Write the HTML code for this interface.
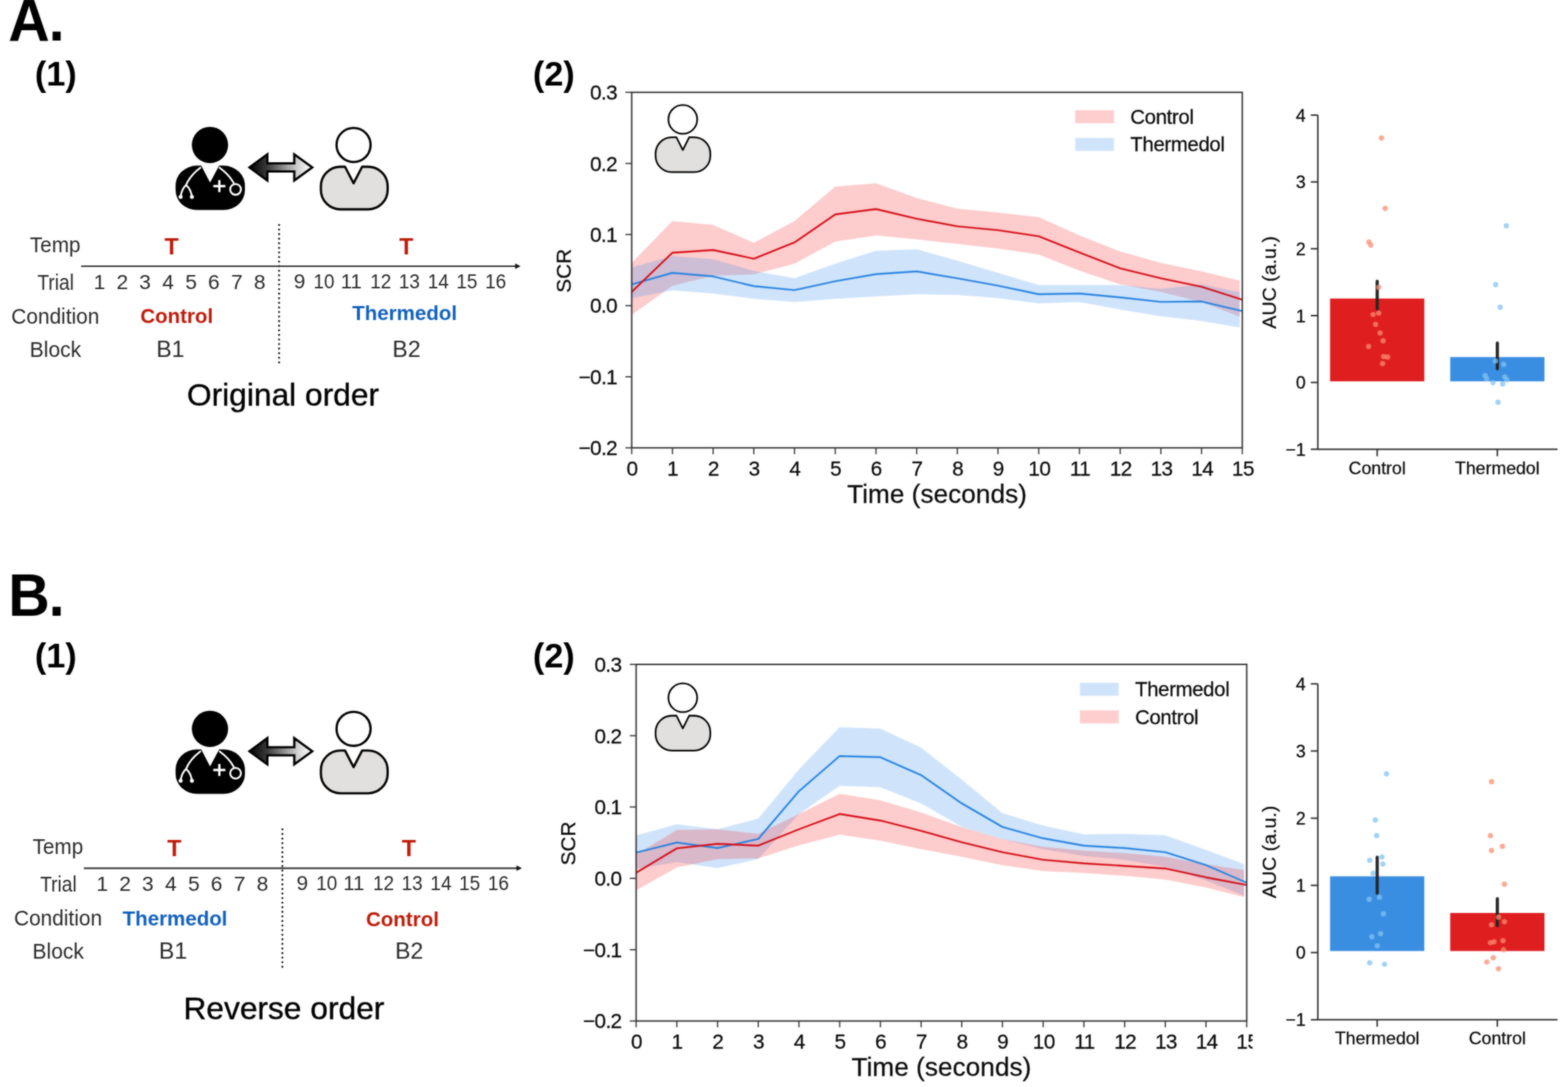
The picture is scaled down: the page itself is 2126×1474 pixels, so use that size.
<!DOCTYPE html>
<html lang="en"><head><meta charset="utf-8"><title>SCR by condition order</title>
<style>html,body{margin:0;padding:0;background:#fff}body{width:2126px;height:1474px;overflow:hidden}svg{display:block}text{font-family:'Liberation Sans', sans-serif}.ct text{stroke:#111;stroke-width:.3px}</style>
</head><body>
<svg width="2126" height="1474" viewBox="0 0 2126 1474" role="img" aria-label="Skin conductance responses for original and reverse condition order">
<defs>
<linearGradient id="ag" x1="0" y1="0" x2="1" y2="0"><stop offset="0" stop-color="#000"/><stop offset="0.28" stop-color="#3a3a3a"/><stop offset="0.52" stop-color="#858585"/><stop offset="0.76" stop-color="#cfcfcf"/><stop offset="0.92" stop-color="#f2f2f2"/><stop offset="1" stop-color="#fff"/></linearGradient>
<filter id="soft" x="0" y="0" width="2126" height="1474" filterUnits="userSpaceOnUse" color-interpolation-filters="sRGB"><feGaussianBlur stdDeviation="0.8" result="b"/><feComposite in="b" in2="SourceGraphic" operator="arithmetic" k1="0" k2="0.62" k3="0.38" k4="0"/></filter>
</defs>
<rect width="2126" height="1474" fill="#fff"/>
<g filter="url(#soft)">
<rect x="-10" y="-10" width="2146" height="1494" fill="#fff"/>
<text x="0" y="0" font-size="77.8" text-anchor="start" font-weight="bold" fill="#000" transform="translate(11.2,55) scale(1,1.045)" letter-spacing="-1.3">A.</text>
<text x="0" y="0" font-size="77.8" text-anchor="start" font-weight="bold" fill="#000" transform="translate(11.2,835.4) scale(1,1.045)" letter-spacing="-1.3">B.</text>
<text x="47.2" y="115.9" font-size="46.6" text-anchor="start" font-weight="bold" fill="#000">(1)</text>
<text x="47.2" y="904.5" font-size="46.6" text-anchor="start" font-weight="bold" fill="#000">(1)</text>
<text x="722.4" y="115.9" font-size="46.6" text-anchor="start" font-weight="bold" fill="#000">(2)</text>
<text x="722.4" y="904.5" font-size="46.6" text-anchor="start" font-weight="bold" fill="#000">(2)</text>
<g transform="translate(0,0)">
<circle cx="284.7" cy="196.6" r="24.6" fill="#000"/>
<rect x="238.1" y="224.6" width="94" height="60.2" rx="29" ry="27" fill="#000"/>
<path d="M272.6 224 L284.8 247.6 L297.4 224 Z" fill="#fff"/>
<g fill="none" stroke="#fff" stroke-width="2.5" stroke-linecap="round">
<path d="M271.6 227.4 Q257.5 238 252.3 251"/>
<path d="M244.9 266.6 Q246.5 256 252.3 251 Q258.6 256 260.2 266.6"/>
<path d="M297.8 227.4 Q311 237 317 248.5"/>
<circle cx="319.4" cy="256.8" r="7.3" stroke-width="2.6"/>
<path d="M289.2 252.4 H305.6 M297.4 244.2 V260.6" stroke-width="3.2" stroke-linecap="butt"/>
</g>
<circle cx="244.9" cy="267" r="2.7" fill="#fff"/><circle cx="260.2" cy="267" r="2.7" fill="#fff"/>
</g>
<path d="M338.2 227 L362.5 209.2 L362.5 221.5 L399 221.5 L399 209.2 L423.4 227 L399 244.8 L399 232.5 L362.5 232.5 L362.5 244.8 Z" fill="url(#ag)" stroke="#000" stroke-width="3.1" stroke-linejoin="miter"/>
<circle cx="479.4" cy="196.6" r="23.1" fill="#fff" stroke="#000" stroke-width="3.1"/>
<path d="M461.6 226.1 L467.8 226.1 L479.4 248.5 L491 226.1 L499.1 226.1 A26.5 26.5 0 0 1 525.6 252.6 L525.6 257.4 A26.5 26.5 0 0 1 499.1 283.9 L461.6 283.9 A26.5 26.5 0 0 1 435.1 257.4 L435.1 252.6 A26.5 26.5 0 0 1 461.6 226.1 Z" fill="#e2e0df" stroke="#000" stroke-width="3.1" stroke-linejoin="round"/>
<g transform="translate(0,0)">
<text x="74.8" y="342.2" font-size="28.6" text-anchor="middle" fill="#2a2a2a" textLength="68.6" lengthAdjust="spacingAndGlyphs">Temp</text>
<text x="75.5" y="393.1" font-size="28.6" text-anchor="middle" fill="#2a2a2a" textLength="49.6" lengthAdjust="spacingAndGlyphs">Trial</text>
<text x="75" y="438.6" font-size="28.6" text-anchor="middle" fill="#2a2a2a" textLength="119.4" lengthAdjust="spacingAndGlyphs">Condition</text>
<text x="75.2" y="483.5" font-size="28.6" text-anchor="middle" fill="#2a2a2a" textLength="69.8" lengthAdjust="spacingAndGlyphs">Block</text>
<text x="232.6" y="345" font-size="31.5" text-anchor="middle" font-weight="bold" fill="#bf1a08">T</text>
<text x="550.8" y="345" font-size="31.5" text-anchor="middle" font-weight="bold" fill="#bf1a08">T</text>
<text x="135" y="392.2" font-size="28.4" text-anchor="middle" fill="#2a2a2a">1</text>
<text x="165.9" y="392.2" font-size="28.4" text-anchor="middle" fill="#2a2a2a">2</text>
<text x="196.7" y="392.2" font-size="28.4" text-anchor="middle" fill="#2a2a2a">3</text>
<text x="227.9" y="392.2" font-size="28.4" text-anchor="middle" fill="#2a2a2a">4</text>
<text x="259.1" y="392.2" font-size="28.4" text-anchor="middle" fill="#2a2a2a">5</text>
<text x="290" y="392.2" font-size="28.4" text-anchor="middle" fill="#2a2a2a">6</text>
<text x="321.1" y="392.2" font-size="28.4" text-anchor="middle" fill="#2a2a2a">7</text>
<text x="352.1" y="392.2" font-size="28.4" text-anchor="middle" fill="#2a2a2a">8</text>
<text x="406.1" y="390.9" font-size="28.4" text-anchor="middle" fill="#2a2a2a">9</text>
<text x="439.3" y="390.9" font-size="28.4" text-anchor="middle" fill="#2a2a2a" textLength="28.6" lengthAdjust="spacingAndGlyphs">10</text>
<text x="476.2" y="390.9" font-size="28.4" text-anchor="middle" fill="#2a2a2a" textLength="28.6" lengthAdjust="spacingAndGlyphs">11</text>
<text x="516.3" y="390.9" font-size="28.4" text-anchor="middle" fill="#2a2a2a" textLength="28.6" lengthAdjust="spacingAndGlyphs">12</text>
<text x="555.1" y="390.9" font-size="28.4" text-anchor="middle" fill="#2a2a2a" textLength="28.6" lengthAdjust="spacingAndGlyphs">13</text>
<text x="594.2" y="390.9" font-size="28.4" text-anchor="middle" fill="#2a2a2a" textLength="28.6" lengthAdjust="spacingAndGlyphs">14</text>
<text x="633.1" y="390.9" font-size="28.4" text-anchor="middle" fill="#2a2a2a" textLength="28.6" lengthAdjust="spacingAndGlyphs">15</text>
<text x="672.1" y="390.9" font-size="28.4" text-anchor="middle" fill="#2a2a2a" textLength="28.6" lengthAdjust="spacingAndGlyphs">16</text>
</g>
<g transform="translate(0,0)">
<text x="239.6" y="437.5" font-size="27.8" text-anchor="middle" font-weight="bold" fill="#bf1a08">Control</text>
<text x="548.6" y="434.4" font-size="27.8" text-anchor="middle" font-weight="bold" fill="#1160bd">Thermedol</text>
<text x="231" y="483.9" font-size="31.2" text-anchor="middle" fill="#2a2a2a">B1</text>
<text x="551.2" y="483.9" font-size="31.2" text-anchor="middle" fill="#2a2a2a">B2</text>
<line x1="378.4" y1="305.1" x2="378.4" y2="493.6" stroke="#141414" stroke-width="2.8" stroke-linecap="round" stroke-dasharray="0.01 6.2"/>
<line x1="110" y1="361" x2="699.9" y2="361" stroke="#303030" stroke-width="2.2"/>
<path d="M698.5 357.2 L705.9 361 L698.5 364.8 Z" fill="#111"/>
</g>
<text x="383.7" y="550.3" font-size="43" text-anchor="middle" fill="#000" stroke="#000" stroke-width="0.45">Original order</text>
<g transform="translate(0,791.7)">
<circle cx="284.7" cy="196.6" r="24.6" fill="#000"/>
<rect x="238.1" y="224.6" width="94" height="60.2" rx="29" ry="27" fill="#000"/>
<path d="M272.6 224 L284.8 247.6 L297.4 224 Z" fill="#fff"/>
<g fill="none" stroke="#fff" stroke-width="2.5" stroke-linecap="round">
<path d="M271.6 227.4 Q257.5 238 252.3 251"/>
<path d="M244.9 266.6 Q246.5 256 252.3 251 Q258.6 256 260.2 266.6"/>
<path d="M297.8 227.4 Q311 237 317 248.5"/>
<circle cx="319.4" cy="256.8" r="7.3" stroke-width="2.6"/>
<path d="M289.2 252.4 H305.6 M297.4 244.2 V260.6" stroke-width="3.2" stroke-linecap="butt"/>
</g>
<circle cx="244.9" cy="267" r="2.7" fill="#fff"/><circle cx="260.2" cy="267" r="2.7" fill="#fff"/>
</g>
<path d="M338.2 1018.7 L362.5 1000.9 L362.5 1013.2 L399 1013.2 L399 1000.9 L423.4 1018.7 L399 1036.5 L399 1024.2 L362.5 1024.2 L362.5 1036.5 Z" fill="url(#ag)" stroke="#000" stroke-width="3.1" stroke-linejoin="miter"/>
<circle cx="479.4" cy="988.3" r="23.1" fill="#fff" stroke="#000" stroke-width="3.1"/>
<path d="M461.6 1017.8 L467.8 1017.8 L479.4 1040.2 L491 1017.8 L499.1 1017.8 A26.5 26.5 0 0 1 525.6 1044.2 L525.6 1049.2 A26.5 26.5 0 0 1 499.1 1075.7 L461.6 1075.7 A26.5 26.5 0 0 1 435.1 1049.2 L435.1 1044.2 A26.5 26.5 0 0 1 461.6 1017.8 Z" fill="#e2e0df" stroke="#000" stroke-width="3.1" stroke-linejoin="round"/>
<g transform="translate(3.7,816.3)">
<text x="74.8" y="342.2" font-size="28.6" text-anchor="middle" fill="#2a2a2a" textLength="68.6" lengthAdjust="spacingAndGlyphs">Temp</text>
<text x="75.5" y="393.1" font-size="28.6" text-anchor="middle" fill="#2a2a2a" textLength="49.6" lengthAdjust="spacingAndGlyphs">Trial</text>
<text x="75" y="438.6" font-size="28.6" text-anchor="middle" fill="#2a2a2a" textLength="119.4" lengthAdjust="spacingAndGlyphs">Condition</text>
<text x="75.2" y="483.5" font-size="28.6" text-anchor="middle" fill="#2a2a2a" textLength="69.8" lengthAdjust="spacingAndGlyphs">Block</text>
<text x="232.6" y="345" font-size="31.5" text-anchor="middle" font-weight="bold" fill="#bf1a08">T</text>
<text x="550.8" y="345" font-size="31.5" text-anchor="middle" font-weight="bold" fill="#bf1a08">T</text>
<text x="135" y="392.2" font-size="28.4" text-anchor="middle" fill="#2a2a2a">1</text>
<text x="165.9" y="392.2" font-size="28.4" text-anchor="middle" fill="#2a2a2a">2</text>
<text x="196.7" y="392.2" font-size="28.4" text-anchor="middle" fill="#2a2a2a">3</text>
<text x="227.9" y="392.2" font-size="28.4" text-anchor="middle" fill="#2a2a2a">4</text>
<text x="259.1" y="392.2" font-size="28.4" text-anchor="middle" fill="#2a2a2a">5</text>
<text x="290" y="392.2" font-size="28.4" text-anchor="middle" fill="#2a2a2a">6</text>
<text x="321.1" y="392.2" font-size="28.4" text-anchor="middle" fill="#2a2a2a">7</text>
<text x="352.1" y="392.2" font-size="28.4" text-anchor="middle" fill="#2a2a2a">8</text>
<text x="406.1" y="390.9" font-size="28.4" text-anchor="middle" fill="#2a2a2a">9</text>
<text x="439.3" y="390.9" font-size="28.4" text-anchor="middle" fill="#2a2a2a" textLength="28.6" lengthAdjust="spacingAndGlyphs">10</text>
<text x="476.2" y="390.9" font-size="28.4" text-anchor="middle" fill="#2a2a2a" textLength="28.6" lengthAdjust="spacingAndGlyphs">11</text>
<text x="516.3" y="390.9" font-size="28.4" text-anchor="middle" fill="#2a2a2a" textLength="28.6" lengthAdjust="spacingAndGlyphs">12</text>
<text x="555.1" y="390.9" font-size="28.4" text-anchor="middle" fill="#2a2a2a" textLength="28.6" lengthAdjust="spacingAndGlyphs">13</text>
<text x="594.2" y="390.9" font-size="28.4" text-anchor="middle" fill="#2a2a2a" textLength="28.6" lengthAdjust="spacingAndGlyphs">14</text>
<text x="633.1" y="390.9" font-size="28.4" text-anchor="middle" fill="#2a2a2a" textLength="28.6" lengthAdjust="spacingAndGlyphs">15</text>
<text x="672.1" y="390.9" font-size="28.4" text-anchor="middle" fill="#2a2a2a" textLength="28.6" lengthAdjust="spacingAndGlyphs">16</text>
</g>
<g transform="translate(3.7,816.3)">
<text x="233.6" y="438.9" font-size="27.8" text-anchor="middle" font-weight="bold" fill="#1160bd">Thermedol</text>
<text x="542" y="439.4" font-size="27.8" text-anchor="middle" font-weight="bold" fill="#bf1a08">Control</text>
<text x="231" y="483.9" font-size="31.2" text-anchor="middle" fill="#2a2a2a">B1</text>
<text x="551.2" y="483.9" font-size="31.2" text-anchor="middle" fill="#2a2a2a">B2</text>
<line x1="379.2" y1="308.4" x2="379.2" y2="496.9" stroke="#141414" stroke-width="2.8" stroke-linecap="round" stroke-dasharray="0.01 6.2"/>
<line x1="110" y1="361" x2="698" y2="361" stroke="#303030" stroke-width="2.2"/>
<path d="M696.6 357.2 L704 361 L696.6 364.8 Z" fill="#111"/>
</g>
<text x="384.9" y="1381.5" font-size="43" text-anchor="middle" fill="#000" stroke="#000" stroke-width="0.45">Reverse order</text>
<g class="ct">
<polygon points="856.5,356.6 911.7,299.7 966.9,304.9 1022.1,329.3 1077.3,299.7 1132.5,253.1 1187.7,248.6 1242.9,268.6 1298,283.1 1353.2,288.3 1408.4,294.5 1463.6,319.3 1518.8,341.1 1574,356.6 1629.2,368 1680.8,380.5 1680.8,429.6 1629.2,409.6 1574,396 1518.8,385.6 1463.6,366.9 1408.4,345.2 1353.2,336.9 1298,330.7 1242.9,324.5 1187.7,319.3 1132.5,327.6 1077.3,357.6 1022.1,372.1 966.9,374 911.7,387.6 856.5,427" fill="#f83434" fill-opacity="0.25"/>
<polygon points="856.5,362.8 911.7,347.3 966.9,351.4 1022.1,367.4 1077.3,377.3 1132.5,357.6 1187.7,340 1242.9,338 1298,353.5 1353.2,370 1408.4,386.6 1463.6,386.6 1518.8,386.6 1574,391.8 1629.2,385.6 1680.8,396.3 1680.8,444 1629.2,435.2 1574,429 1518.8,419.7 1463.6,409.4 1408.4,411.4 1353.2,404.2 1298,400 1242.9,399 1187.7,402.1 1132.5,405.2 1077.3,409.4 1022.1,405.2 966.9,398 911.7,393.8 856.5,404.2" fill="#3f93ef" fill-opacity="0.25"/>
<polyline points="856.5,385.6 911.7,370 966.9,374.8 1022.1,388 1077.3,393.4 1132.5,381.4 1187.7,371.7 1242.9,368 1298,377.4 1353.2,387.4 1408.4,399 1463.6,398 1518.8,403.2 1574,409.4 1629.2,408.8 1684.4,421.8" fill="none" stroke="#2a84e0" stroke-width="2.4" stroke-linejoin="round"/>
<polyline points="856.5,395.9 911.7,342.7 966.9,339 1022.1,350.8 1077.3,328.7 1132.5,290.8 1187.7,283.5 1242.9,296.6 1298,306.9 1353.2,312.1 1408.4,320.4 1463.6,342.4 1518.8,363.8 1574,377.3 1629.2,388.8 1684.4,406.3" fill="none" stroke="#d50f1a" stroke-width="2.4" stroke-linejoin="round"/>
<rect x="856.5" y="125.2" width="827.9" height="482.1" fill="none" stroke="#2c2c2c" stroke-width="1.9"/>
<line x1="847.9" y1="125.2" x2="856.5" y2="125.2" stroke="#383838" stroke-width="1.7"/>
<text x="836.7" y="135.1" font-size="28.2" text-anchor="end" fill="#080808" letter-spacing="-0.85">0.3</text>
<line x1="847.9" y1="221.6" x2="856.5" y2="221.6" stroke="#383838" stroke-width="1.7"/>
<text x="836.7" y="231.5" font-size="28.2" text-anchor="end" fill="#080808" letter-spacing="-0.85">0.2</text>
<line x1="847.9" y1="318" x2="856.5" y2="318" stroke="#383838" stroke-width="1.7"/>
<text x="836.7" y="327.9" font-size="28.2" text-anchor="end" fill="#080808" letter-spacing="-0.85">0.1</text>
<line x1="847.9" y1="414.5" x2="856.5" y2="414.5" stroke="#383838" stroke-width="1.7"/>
<text x="836.7" y="424.4" font-size="28.2" text-anchor="end" fill="#080808" letter-spacing="-0.85">0.0</text>
<line x1="847.9" y1="510.9" x2="856.5" y2="510.9" stroke="#383838" stroke-width="1.7"/>
<text x="836.7" y="520.8" font-size="28.2" text-anchor="end" fill="#080808" letter-spacing="-0.85">−0.1</text>
<line x1="847.9" y1="607.3" x2="856.5" y2="607.3" stroke="#383838" stroke-width="1.7"/>
<text x="836.7" y="617.2" font-size="28.2" text-anchor="end" fill="#080808" letter-spacing="-0.85">−0.2</text>
<line x1="856.5" y1="607.3" x2="856.5" y2="615.9" stroke="#383838" stroke-width="1.7"/>
<text x="856.8" y="644.9" font-size="28.2" text-anchor="middle" fill="#080808" letter-spacing="-0.85">0</text>
<line x1="911.7" y1="607.3" x2="911.7" y2="615.9" stroke="#383838" stroke-width="1.7"/>
<text x="912" y="644.9" font-size="28.2" text-anchor="middle" fill="#080808" letter-spacing="-0.85">1</text>
<line x1="966.9" y1="607.3" x2="966.9" y2="615.9" stroke="#383838" stroke-width="1.7"/>
<text x="967.2" y="644.9" font-size="28.2" text-anchor="middle" fill="#080808" letter-spacing="-0.85">2</text>
<line x1="1022.1" y1="607.3" x2="1022.1" y2="615.9" stroke="#383838" stroke-width="1.7"/>
<text x="1022.4" y="644.9" font-size="28.2" text-anchor="middle" fill="#080808" letter-spacing="-0.85">3</text>
<line x1="1077.3" y1="607.3" x2="1077.3" y2="615.9" stroke="#383838" stroke-width="1.7"/>
<text x="1077.6" y="644.9" font-size="28.2" text-anchor="middle" fill="#080808" letter-spacing="-0.85">4</text>
<line x1="1132.5" y1="607.3" x2="1132.5" y2="615.9" stroke="#383838" stroke-width="1.7"/>
<text x="1132.8" y="644.9" font-size="28.2" text-anchor="middle" fill="#080808" letter-spacing="-0.85">5</text>
<line x1="1187.7" y1="607.3" x2="1187.7" y2="615.9" stroke="#383838" stroke-width="1.7"/>
<text x="1188" y="644.9" font-size="28.2" text-anchor="middle" fill="#080808" letter-spacing="-0.85">6</text>
<line x1="1242.9" y1="607.3" x2="1242.9" y2="615.9" stroke="#383838" stroke-width="1.7"/>
<text x="1243.2" y="644.9" font-size="28.2" text-anchor="middle" fill="#080808" letter-spacing="-0.85">7</text>
<line x1="1298" y1="607.3" x2="1298" y2="615.9" stroke="#383838" stroke-width="1.7"/>
<text x="1298.3" y="644.9" font-size="28.2" text-anchor="middle" fill="#080808" letter-spacing="-0.85">8</text>
<line x1="1353.2" y1="607.3" x2="1353.2" y2="615.9" stroke="#383838" stroke-width="1.7"/>
<text x="1353.5" y="644.9" font-size="28.2" text-anchor="middle" fill="#080808" letter-spacing="-0.85">9</text>
<line x1="1408.4" y1="607.3" x2="1408.4" y2="615.9" stroke="#383838" stroke-width="1.7"/>
<text x="1409.2" y="644.9" font-size="28.2" text-anchor="middle" fill="#080808" letter-spacing="-0.85">10</text>
<line x1="1463.6" y1="607.3" x2="1463.6" y2="615.9" stroke="#383838" stroke-width="1.7"/>
<text x="1464.4" y="644.9" font-size="28.2" text-anchor="middle" fill="#080808" letter-spacing="-0.85">11</text>
<line x1="1518.8" y1="607.3" x2="1518.8" y2="615.9" stroke="#383838" stroke-width="1.7"/>
<text x="1519.6" y="644.9" font-size="28.2" text-anchor="middle" fill="#080808" letter-spacing="-0.85">12</text>
<line x1="1574" y1="607.3" x2="1574" y2="615.9" stroke="#383838" stroke-width="1.7"/>
<text x="1574.8" y="644.9" font-size="28.2" text-anchor="middle" fill="#080808" letter-spacing="-0.85">13</text>
<line x1="1629.2" y1="607.3" x2="1629.2" y2="615.9" stroke="#383838" stroke-width="1.7"/>
<text x="1630" y="644.9" font-size="28.2" text-anchor="middle" fill="#080808" letter-spacing="-0.85">14</text>
<line x1="1684.4" y1="607.3" x2="1684.4" y2="615.9" stroke="#383838" stroke-width="1.7"/>
<text x="1685.2" y="644.9" font-size="28.2" text-anchor="middle" fill="#080808" letter-spacing="-0.85">15</text>
<text x="1270.4" y="681.9" font-size="35.6" text-anchor="middle" fill="#080808">Time (seconds)</text>
<text x="0" y="0" font-size="28.2" text-anchor="middle" fill="#080808" transform="translate(774.3,367.2) rotate(-90)">SCR</text>
<rect x="1457.8" y="149.5" width="52.6" height="17.6" fill="#fecdcd"/>
<text x="1532.6" y="167.8" font-size="27.6" text-anchor="start" fill="#080808" letter-spacing="-0.45">Control</text>
<rect x="1457.8" y="187" width="52.6" height="17.6" fill="#cfe4fb"/>
<text x="1532.6" y="205.3" font-size="27.6" text-anchor="start" fill="#080808" letter-spacing="-0.45">Thermedol</text>
<circle cx="925.8" cy="161.9" r="19.5" fill="#fff" stroke="#000" stroke-width="2.3"/>
<path d="M910.9 186.2 L917.2 186.2 L925.8 203.4 L934.4 186.2 L941.1 186.2 A22 22 0 0 1 963.1 208.2 L963.1 211.4 A22 22 0 0 1 941.1 233.4 L910.9 233.4 A22 22 0 0 1 888.9 211.4 L888.9 208.2 A22 22 0 0 1 910.9 186.2 Z" fill="#e2e0df" stroke="#000" stroke-width="2.3" stroke-linejoin="round"/>
<rect x="1803.4" y="404.8" width="127.8" height="112.3" fill="#df1e20"/>
<rect x="1966.3" y="484.2" width="127.8" height="32.9" fill="#3a8ee2"/>
<line x1="1867.3" y1="381.3" x2="1867.3" y2="419.2" stroke="#262626" stroke-width="4.3" stroke-linecap="round"/>
<line x1="2030.2" y1="465.2" x2="2030.2" y2="500.1" stroke="#262626" stroke-width="4.3" stroke-linecap="round"/>
<g fill="#fa8c6e" fill-opacity="0.74">
<circle cx="1873.1" cy="187.2" r="3.6"/>
<circle cx="1878" cy="282.6" r="3.6"/>
<circle cx="1856" cy="328.1" r="3.6"/>
<circle cx="1858.6" cy="332.3" r="3.6"/>
<circle cx="1869.3" cy="389.7" r="3.6"/>
<circle cx="1861.7" cy="426.5" r="3.6"/>
<circle cx="1869.3" cy="424.6" r="3.6"/>
<circle cx="1865.1" cy="439.8" r="3.6"/>
<circle cx="1871.2" cy="451.6" r="3.6"/>
<circle cx="1875.3" cy="462.2" r="3.6"/>
<circle cx="1855.6" cy="469.8" r="3.6"/>
<circle cx="1876.1" cy="483.5" r="3.6"/>
<circle cx="1881.4" cy="484.2" r="3.6"/>
<circle cx="1874.6" cy="493" r="3.6"/>
</g>
<g fill="#80c3f2" fill-opacity="0.74">
<circle cx="2042.4" cy="306.1" r="3.6"/>
<circle cx="2028" cy="385.9" r="3.6"/>
<circle cx="2034.1" cy="416.6" r="3.6"/>
<circle cx="2027.6" cy="489.5" r="3.6"/>
<circle cx="2038.7" cy="494.1" r="3.6"/>
<circle cx="2013.6" cy="509.3" r="3.6"/>
<circle cx="2015.9" cy="513.8" r="3.6"/>
<circle cx="2024.2" cy="518.8" r="3.6"/>
<circle cx="2037.5" cy="520.7" r="3.6"/>
<circle cx="2040.2" cy="511.2" r="3.6"/>
<circle cx="2043.2" cy="515" r="3.6"/>
<circle cx="2031.1" cy="545.4" r="3.6"/>
</g>
<path d="M1786.8 156.1 V609.2 H2111.8" fill="none" stroke="#2c2c2c" stroke-width="2"/>
<line x1="1777.3" y1="156.1" x2="1786.8" y2="156.1" stroke="#2c2c2c" stroke-width="2"/>
<text x="1770.3" y="164.7" font-size="24" text-anchor="end" fill="#080808">4</text>
<line x1="1777.3" y1="246.7" x2="1786.8" y2="246.7" stroke="#2c2c2c" stroke-width="2"/>
<text x="1770.3" y="255.3" font-size="24" text-anchor="end" fill="#080808">3</text>
<line x1="1777.3" y1="337.3" x2="1786.8" y2="337.3" stroke="#2c2c2c" stroke-width="2"/>
<text x="1770.3" y="345.9" font-size="24" text-anchor="end" fill="#080808">2</text>
<line x1="1777.3" y1="428" x2="1786.8" y2="428" stroke="#2c2c2c" stroke-width="2"/>
<text x="1770.3" y="436.6" font-size="24" text-anchor="end" fill="#080808">1</text>
<line x1="1777.3" y1="518.6" x2="1786.8" y2="518.6" stroke="#2c2c2c" stroke-width="2"/>
<text x="1770.3" y="527.2" font-size="24" text-anchor="end" fill="#080808">0</text>
<line x1="1777.3" y1="609.2" x2="1786.8" y2="609.2" stroke="#2c2c2c" stroke-width="2"/>
<text x="1770.3" y="617.8" font-size="24" text-anchor="end" fill="#080808">−1</text>
<line x1="1867.3" y1="609.2" x2="1867.3" y2="618.7" stroke="#2c2c2c" stroke-width="2"/>
<text x="1867.3" y="643.4" font-size="24" text-anchor="middle" fill="#080808">Control</text>
<line x1="2030.2" y1="609.2" x2="2030.2" y2="618.7" stroke="#2c2c2c" stroke-width="2"/>
<text x="2030.2" y="643.4" font-size="24" text-anchor="middle" fill="#080808">Thermedol</text>
<text x="0" y="0" font-size="26.6" text-anchor="middle" fill="#080808" transform="translate(1729.8,382.9) rotate(-90)">AUC (a.u.)</text>
<polygon points="862.5,1132.8 917.7,1117.7 972.9,1124.5 1028.1,1110 1083.3,1043.2 1138.5,985.9 1193.7,987.9 1248.9,1013.8 1304,1057.3 1359.2,1102.8 1414.4,1119.4 1469.6,1131.4 1524.8,1130.7 1580,1132.8 1635.2,1152.5 1686.8,1171.8 1686.8,1214.5 1635.2,1193.9 1580,1175.2 1524.8,1165.9 1469.6,1160.8 1414.4,1151.4 1359.2,1138 1304,1121.2 1248.9,1089.4 1193.7,1067.6 1138.5,1065.5 1083.3,1103.8 1028.1,1164.9 972.9,1177.3 917.7,1169 862.5,1178.3" fill="#3f93ef" fill-opacity="0.25"/>
<polygon points="862.5,1158.7 917.7,1125.6 972.9,1124.5 1028.1,1130.7 1083.3,1103.8 1138.5,1076.5 1193.7,1085.2 1248.9,1101.8 1304,1121.4 1359.2,1138 1414.4,1148.3 1469.6,1153.4 1524.8,1156.8 1580,1161.8 1635.2,1172 1686.8,1179.7 1686.8,1216.5 1635.2,1203.6 1580,1192.8 1524.8,1187.5 1469.6,1183.8 1414.4,1181.2 1359.2,1173.2 1304,1161.8 1248.9,1151.4 1193.7,1140 1138.5,1131.8 1083.3,1146.3 1028.1,1163.9 972.9,1164.9 917.7,1176.3 862.5,1207.3" fill="#f83434" fill-opacity="0.25"/>
<polyline points="862.5,1156.2 917.7,1142.5 972.9,1150 1028.1,1137.6 1083.3,1072.8 1138.5,1025.2 1193.7,1026.8 1248.9,1051.1 1304,1089.4 1359.2,1121.4 1414.4,1136.8 1469.6,1146.7 1524.8,1150 1580,1155.6 1635.2,1173.2 1690.4,1197" fill="none" stroke="#2a84e0" stroke-width="2.4" stroke-linejoin="round"/>
<polyline points="862.5,1183.5 917.7,1150.4 972.9,1144.2 1028.1,1146.7 1083.3,1124.5 1138.5,1103.8 1193.7,1112.7 1248.9,1126.6 1304,1142.1 1359.2,1155.6 1414.4,1165.9 1469.6,1170.7 1524.8,1174.2 1580,1177.7 1635.2,1189.7 1690.4,1200.1" fill="none" stroke="#d50f1a" stroke-width="2.4" stroke-linejoin="round"/>
<rect x="862.5" y="900.9" width="827.9" height="483.6" fill="none" stroke="#2c2c2c" stroke-width="1.9"/>
<line x1="853.9" y1="900.9" x2="862.5" y2="900.9" stroke="#383838" stroke-width="1.7"/>
<text x="842.7" y="910.8" font-size="28.2" text-anchor="end" fill="#080808" letter-spacing="-0.85">0.3</text>
<line x1="853.9" y1="997.6" x2="862.5" y2="997.6" stroke="#383838" stroke-width="1.7"/>
<text x="842.7" y="1007.5" font-size="28.2" text-anchor="end" fill="#080808" letter-spacing="-0.85">0.2</text>
<line x1="853.9" y1="1094.3" x2="862.5" y2="1094.3" stroke="#383838" stroke-width="1.7"/>
<text x="842.7" y="1104.2" font-size="28.2" text-anchor="end" fill="#080808" letter-spacing="-0.85">0.1</text>
<line x1="853.9" y1="1191.1" x2="862.5" y2="1191.1" stroke="#383838" stroke-width="1.7"/>
<text x="842.7" y="1201" font-size="28.2" text-anchor="end" fill="#080808" letter-spacing="-0.85">0.0</text>
<line x1="853.9" y1="1287.8" x2="862.5" y2="1287.8" stroke="#383838" stroke-width="1.7"/>
<text x="842.7" y="1297.7" font-size="28.2" text-anchor="end" fill="#080808" letter-spacing="-0.85">−0.1</text>
<line x1="853.9" y1="1384.5" x2="862.5" y2="1384.5" stroke="#383838" stroke-width="1.7"/>
<text x="842.7" y="1394.4" font-size="28.2" text-anchor="end" fill="#080808" letter-spacing="-0.85">−0.2</text>
<line x1="862.5" y1="1384.5" x2="862.5" y2="1393.1" stroke="#383838" stroke-width="1.7"/>
<text x="862.8" y="1422.1" font-size="28.2" text-anchor="middle" fill="#080808" letter-spacing="-0.85">0</text>
<line x1="917.7" y1="1384.5" x2="917.7" y2="1393.1" stroke="#383838" stroke-width="1.7"/>
<text x="918" y="1422.1" font-size="28.2" text-anchor="middle" fill="#080808" letter-spacing="-0.85">1</text>
<line x1="972.9" y1="1384.5" x2="972.9" y2="1393.1" stroke="#383838" stroke-width="1.7"/>
<text x="973.2" y="1422.1" font-size="28.2" text-anchor="middle" fill="#080808" letter-spacing="-0.85">2</text>
<line x1="1028.1" y1="1384.5" x2="1028.1" y2="1393.1" stroke="#383838" stroke-width="1.7"/>
<text x="1028.4" y="1422.1" font-size="28.2" text-anchor="middle" fill="#080808" letter-spacing="-0.85">3</text>
<line x1="1083.3" y1="1384.5" x2="1083.3" y2="1393.1" stroke="#383838" stroke-width="1.7"/>
<text x="1083.6" y="1422.1" font-size="28.2" text-anchor="middle" fill="#080808" letter-spacing="-0.85">4</text>
<line x1="1138.5" y1="1384.5" x2="1138.5" y2="1393.1" stroke="#383838" stroke-width="1.7"/>
<text x="1138.8" y="1422.1" font-size="28.2" text-anchor="middle" fill="#080808" letter-spacing="-0.85">5</text>
<line x1="1193.7" y1="1384.5" x2="1193.7" y2="1393.1" stroke="#383838" stroke-width="1.7"/>
<text x="1194" y="1422.1" font-size="28.2" text-anchor="middle" fill="#080808" letter-spacing="-0.85">6</text>
<line x1="1248.9" y1="1384.5" x2="1248.9" y2="1393.1" stroke="#383838" stroke-width="1.7"/>
<text x="1249.2" y="1422.1" font-size="28.2" text-anchor="middle" fill="#080808" letter-spacing="-0.85">7</text>
<line x1="1304" y1="1384.5" x2="1304" y2="1393.1" stroke="#383838" stroke-width="1.7"/>
<text x="1304.3" y="1422.1" font-size="28.2" text-anchor="middle" fill="#080808" letter-spacing="-0.85">8</text>
<line x1="1359.2" y1="1384.5" x2="1359.2" y2="1393.1" stroke="#383838" stroke-width="1.7"/>
<text x="1359.5" y="1422.1" font-size="28.2" text-anchor="middle" fill="#080808" letter-spacing="-0.85">9</text>
<line x1="1414.4" y1="1384.5" x2="1414.4" y2="1393.1" stroke="#383838" stroke-width="1.7"/>
<text x="1415.2" y="1422.1" font-size="28.2" text-anchor="middle" fill="#080808" letter-spacing="-0.85">10</text>
<line x1="1469.6" y1="1384.5" x2="1469.6" y2="1393.1" stroke="#383838" stroke-width="1.7"/>
<text x="1470.4" y="1422.1" font-size="28.2" text-anchor="middle" fill="#080808" letter-spacing="-0.85">11</text>
<line x1="1524.8" y1="1384.5" x2="1524.8" y2="1393.1" stroke="#383838" stroke-width="1.7"/>
<text x="1525.6" y="1422.1" font-size="28.2" text-anchor="middle" fill="#080808" letter-spacing="-0.85">12</text>
<line x1="1580" y1="1384.5" x2="1580" y2="1393.1" stroke="#383838" stroke-width="1.7"/>
<text x="1580.8" y="1422.1" font-size="28.2" text-anchor="middle" fill="#080808" letter-spacing="-0.85">13</text>
<line x1="1635.2" y1="1384.5" x2="1635.2" y2="1393.1" stroke="#383838" stroke-width="1.7"/>
<text x="1636" y="1422.1" font-size="28.2" text-anchor="middle" fill="#080808" letter-spacing="-0.85">14</text>
<line x1="1690.4" y1="1384.5" x2="1690.4" y2="1393.1" stroke="#383838" stroke-width="1.7"/>
<text x="1691.2" y="1422.1" font-size="28.2" text-anchor="middle" fill="#080808" letter-spacing="-0.85">15</text>
<text x="1276.4" y="1459.1" font-size="35.6" text-anchor="middle" fill="#080808">Time (seconds)</text>
<text x="0" y="0" font-size="28.2" text-anchor="middle" fill="#080808" transform="translate(780.3,1143.7) rotate(-90)">SCR</text>
<rect x="1464.2" y="925.8" width="52.6" height="17.6" fill="#cfe4fb"/>
<text x="1539" y="944.1" font-size="27.6" text-anchor="start" fill="#080808" letter-spacing="-0.45">Thermedol</text>
<rect x="1464.2" y="963.3" width="52.6" height="17.6" fill="#fecdcd"/>
<text x="1539" y="981.6" font-size="27.6" text-anchor="start" fill="#080808" letter-spacing="-0.45">Control</text>
<circle cx="925.8" cy="946.2" r="19.5" fill="#fff" stroke="#000" stroke-width="2.3"/>
<path d="M910.9 970.5 L917.2 970.5 L925.8 987.8 L934.4 970.5 L941.1 970.5 A22 22 0 0 1 963.1 992.5 L963.1 995.8 A22 22 0 0 1 941.1 1017.8 L910.9 1017.8 A22 22 0 0 1 888.9 995.8 L888.9 992.5 A22 22 0 0 1 910.9 970.5 Z" fill="#e2e0df" stroke="#000" stroke-width="2.3" stroke-linejoin="round"/>
<rect x="1698.4" y="1390" width="30" height="50" fill="#fff"/>
<rect x="1803.4" y="1188.3" width="127.8" height="101.3" fill="#3a8ee2"/>
<rect x="1966.3" y="1238" width="127.8" height="51.6" fill="#df1e20"/>
<line x1="1867.3" y1="1162.5" x2="1867.3" y2="1211.3" stroke="#262626" stroke-width="4.3" stroke-linecap="round"/>
<line x1="2030.2" y1="1218.7" x2="2030.2" y2="1255.3" stroke="#262626" stroke-width="4.3" stroke-linecap="round"/>
<g fill="#80c3f2" fill-opacity="0.74">
<circle cx="1879.9" cy="1049.3" r="3.6"/>
<circle cx="1864.7" cy="1111.9" r="3.6"/>
<circle cx="1866.6" cy="1133.2" r="3.6"/>
<circle cx="1857.1" cy="1166.6" r="3.6"/>
<circle cx="1873.8" cy="1162.1" r="3.6"/>
<circle cx="1875" cy="1171.6" r="3.6"/>
<circle cx="1861.7" cy="1184.1" r="3.6"/>
<circle cx="1856.4" cy="1219.4" r="3.6"/>
<circle cx="1870.4" cy="1216.7" r="3.6"/>
<circle cx="1875.7" cy="1239.2" r="3.6"/>
<circle cx="1860.1" cy="1270.3" r="3.6"/>
<circle cx="1871.9" cy="1266.1" r="3.6"/>
<circle cx="1867.4" cy="1282.5" r="3.6"/>
<circle cx="1857.1" cy="1305.6" r="3.6"/>
<circle cx="1877.2" cy="1307.5" r="3.6"/>
</g>
<g fill="#fa8c6e" fill-opacity="0.74">
<circle cx="2022.3" cy="1059.9" r="3.6"/>
<circle cx="2020.8" cy="1133.2" r="3.6"/>
<circle cx="2037.1" cy="1147.6" r="3.6"/>
<circle cx="2022.3" cy="1153.3" r="3.6"/>
<circle cx="2039.8" cy="1198.9" r="3.6"/>
<circle cx="2031.8" cy="1243.7" r="3.6"/>
<circle cx="2039.8" cy="1249.8" r="3.6"/>
<circle cx="2022.3" cy="1254" r="3.6"/>
<circle cx="2037.9" cy="1275.6" r="3.6"/>
<circle cx="2020.8" cy="1278.3" r="3.6"/>
<circle cx="2025.7" cy="1277.1" r="3.6"/>
<circle cx="2038.7" cy="1287.8" r="3.6"/>
<circle cx="2024.6" cy="1298.8" r="3.6"/>
<circle cx="2015.9" cy="1304.5" r="3.6"/>
<circle cx="2031.8" cy="1313.6" r="3.6"/>
</g>
<path d="M1786.8 927.3 V1382.8 H2111.8" fill="none" stroke="#2c2c2c" stroke-width="2"/>
<line x1="1777.3" y1="927.3" x2="1786.8" y2="927.3" stroke="#2c2c2c" stroke-width="2"/>
<text x="1770.3" y="935.9" font-size="24" text-anchor="end" fill="#080808">4</text>
<line x1="1777.3" y1="1018.4" x2="1786.8" y2="1018.4" stroke="#2c2c2c" stroke-width="2"/>
<text x="1770.3" y="1027" font-size="24" text-anchor="end" fill="#080808">3</text>
<line x1="1777.3" y1="1109.5" x2="1786.8" y2="1109.5" stroke="#2c2c2c" stroke-width="2"/>
<text x="1770.3" y="1118.1" font-size="24" text-anchor="end" fill="#080808">2</text>
<line x1="1777.3" y1="1200.6" x2="1786.8" y2="1200.6" stroke="#2c2c2c" stroke-width="2"/>
<text x="1770.3" y="1209.2" font-size="24" text-anchor="end" fill="#080808">1</text>
<line x1="1777.3" y1="1291.7" x2="1786.8" y2="1291.7" stroke="#2c2c2c" stroke-width="2"/>
<text x="1770.3" y="1300.3" font-size="24" text-anchor="end" fill="#080808">0</text>
<line x1="1777.3" y1="1382.8" x2="1786.8" y2="1382.8" stroke="#2c2c2c" stroke-width="2"/>
<text x="1770.3" y="1391.4" font-size="24" text-anchor="end" fill="#080808">−1</text>
<line x1="1867.3" y1="1382.8" x2="1867.3" y2="1392.3" stroke="#2c2c2c" stroke-width="2"/>
<text x="1867.3" y="1415.6" font-size="24" text-anchor="middle" fill="#080808">Thermedol</text>
<line x1="2030.2" y1="1382.8" x2="2030.2" y2="1392.3" stroke="#2c2c2c" stroke-width="2"/>
<text x="2030.2" y="1415.6" font-size="24" text-anchor="middle" fill="#080808">Control</text>
<text x="0" y="0" font-size="26.6" text-anchor="middle" fill="#080808" transform="translate(1729.8,1155.2) rotate(-90)">AUC (a.u.)</text>
</g>
</g>
</svg>
</body></html>
